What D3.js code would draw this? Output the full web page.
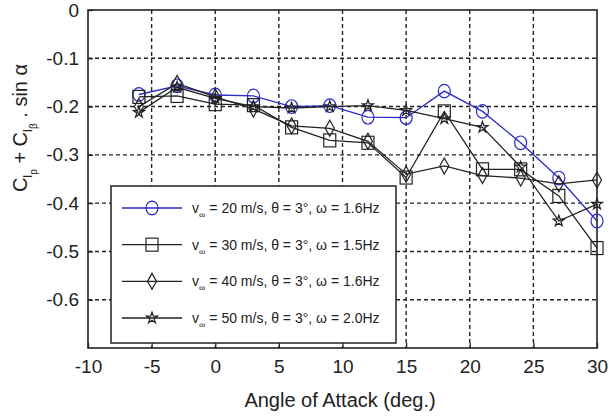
<!DOCTYPE html>
<html>
<head>
<meta charset="utf-8">
<script src="https://cdn.jsdelivr.net/npm/d3@7"></script>
<style>
  body { margin: 0; background: #fff; }
  text { font-family: "Liberation Sans", Arial, sans-serif; fill: #222; }
</style>
</head>
<body>
<svg width="610" height="416"></svg>
<script>
// angle of attack (deg.)
const angles = [-6, -3, 0, 3, 6, 9, 12, 15, 18, 21, 24, 27, 30];

// Clp + Clb . sin(alpha) for each flow speed
const v20 = [-0.175, -0.157, -0.176, -0.178, -0.2, -0.198, -0.222, -0.223, -0.168, -0.21, -0.275, -0.348, -0.437];
const v30 = [-0.18, -0.178, -0.195, -0.197, -0.243, -0.27, -0.275, -0.347, -0.21, -0.33, -0.33, -0.385, -0.493];
const v40 = [-0.2, -0.152, -0.18, -0.205, -0.24, -0.245, -0.272, -0.34, -0.323, -0.343, -0.348, -0.36, -0.352];
const v50 = [-0.212, -0.16, -0.183, -0.2, -0.203, -0.2, -0.198, -0.208, -0.225, -0.243, -0.325, -0.437, -0.402];

const speeds = ["20", "30", "40", "50"];
const freqs = ["1.6", "1.5", "1.6", "2.0"];
const xTicks = [-10, -5, 0, 5, 10, 15, 20, 25, 30];
const yTicks = [0, -0.1, -0.2, -0.3, -0.4, -0.5, -0.6];

const series = [
  { values: v20, color: "#2a2ac8", marker: "circle" },
  { values: v30, color: "#222", marker: "square" },
  { values: v40, color: "#222", marker: "diamond" },
  { values: v50, color: "#222", marker: "star" }
];

const svg = d3.select("svg");
const area = { left: 88, right: 597, top: 10, bottom: 348 };

const scX = d3.scaleLinear().domain([-10, 30]).range([area.left, area.right]);
const scY = d3.scaleLinear().domain([-0.7, 0]).range([area.bottom, area.top]);

// сетка
const grid = svg.append("g")
  .attr("stroke", "#222")
  .attr("stroke-width", 1.4)
  .attr("stroke-dasharray", "4,3");
grid.selectAll(".gx")
  .data(xTicks.slice(1, -1))
  .enter().append("line")
  .attr("x1", d => scX(d)).attr("x2", d => scX(d))
  .attr("y1", area.top).attr("y2", area.bottom);
grid.selectAll(".gy")
  .data(yTicks.slice(1))
  .enter().append("line")
  .attr("x1", area.left).attr("x2", area.right)
  .attr("y1", d => scY(d)).attr("y2", d => scY(d));

// оси
const axisX = svg.append("g")
  .attr("transform", `translate(0, ${area.bottom})`)
  .call(d3.axisBottom(scX).tickValues(xTicks).tickSizeInner(-5).tickSizeOuter(0).tickPadding(12)
    .tickFormat(d => String(d)));
const axisY = svg.append("g")
  .attr("transform", `translate(${area.left}, 0)`)
  .call(d3.axisLeft(scY).tickValues(yTicks).tickSizeInner(-5).tickSizeOuter(0).tickPadding(9)
    .tickFormat(d => d === 0 ? "0" : d.toFixed(1)));
[axisX, axisY].forEach(a => {
  a.select(".domain").remove();
  a.selectAll("line").attr("stroke", "#222").attr("stroke-width", 1.3);
  a.selectAll("text").style("font-size", "19px").attr("fill", "#222");
});

// рамка
svg.append("rect")
  .attr("x", area.left).attr("y", area.top)
  .attr("width", area.right - area.left).attr("height", area.bottom - area.top)
  .attr("fill", "none").attr("stroke", "#222").attr("stroke-width", 1.6);

function drawMarker(g, type, color) {
  const m = g.append("g");
  if (type === "circle") {
    m.append("ellipse").attr("rx", 6).attr("ry", 6.8);
  } else if (type === "square") {
    m.append("rect").attr("x", -6).attr("y", -6.5).attr("width", 12).attr("height", 13);
  } else if (type === "diamond") {
    m.append("path").attr("d", "M0,-8L4.5,0L0,8L-4.5,0Z");
  } else {
    m.append("path").attr("d", d3.symbol(d3.symbolStar, 38)());
  }
  m.selectAll("*").attr("fill", "none").attr("stroke", color).attr("stroke-width", 1.2);
  return m;
}

const lineGen = d3.line().x(d => scX(d.x)).y(d => scY(d.y));

series.forEach(s => {
  const pts = angles.map((a, i) => ({ x: a, y: s.values[i] }));
  svg.append("path")
    .datum(pts)
    .attr("d", lineGen)
    .attr("fill", "none")
    .attr("stroke", s.color)
    .attr("stroke-width", 1.3);
  pts.forEach(p => {
    drawMarker(svg, s.marker, s.color)
      .attr("transform", `translate(${scX(p.x)}, ${scY(p.y)})`);
  });
});

// легенда
const legend = svg.append("g");
legend.append("rect")
  .attr("x", 111).attr("y", 186).attr("width", 285).attr("height", 157)
  .attr("fill", "#fff").attr("stroke", "#222").attr("stroke-width", 1.5);

const legendY = d3.scalePoint().domain(speeds).range([208, 318]);

series.forEach((s, i) => {
  const y = legendY(speeds[i]);
  legend.append("line")
    .attr("x1", 122).attr("x2", 182).attr("y1", y).attr("y2", y)
    .attr("stroke", s.color).attr("stroke-width", 1.3);
  drawMarker(legend, s.marker, s.color).attr("transform", `translate(152, ${y})`);
  const t = legend.append("text")
    .attr("x", 192).attr("y", y + 5)
    .style("font-size", "14px");
  t.append("tspan").text("v");
  t.append("tspan").attr("dy", 5).style("font-size", "9px").text("∞");
  t.append("tspan").attr("dy", -5)
    .text(` = ${speeds[i]} m/s, θ = 3°, ω = ${freqs[i]}Hz`);
});

// подписи осей
svg.append("text")
  .attr("x", 340).attr("y", 407)
  .attr("text-anchor", "middle")
  .style("font-size", "20px")
  .text("Angle of Attack (deg.)");

const yl = svg.append("text")
  .attr("transform", "translate(27, 128) rotate(-90)")
  .attr("text-anchor", "middle")
  .style("font-size", "20px");
yl.append("tspan").text("C");
yl.append("tspan").attr("dy", 5).style("font-size", "13px").text("l");
yl.append("tspan").attr("dy", 5).style("font-size", "10px").text("p");
yl.append("tspan").attr("dy", -10).text(" + C");
yl.append("tspan").attr("dy", 5).style("font-size", "13px").text("l");
yl.append("tspan").attr("dy", 5).style("font-size", "10px").text("β");
yl.append("tspan").attr("dy", -10).text(" . sin α");
</script>
</body>
</html>
